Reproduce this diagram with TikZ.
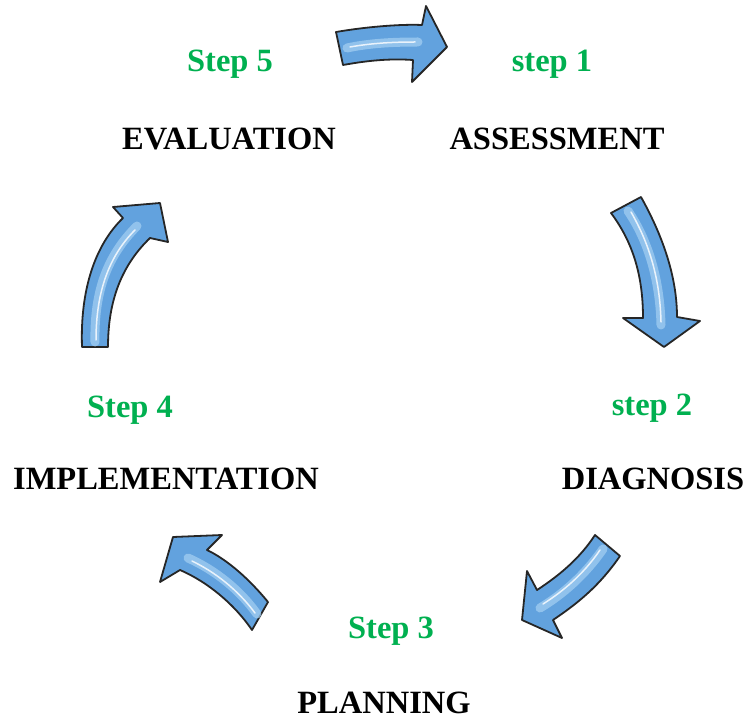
\documentclass[tikz,border=0pt]{standalone}
\usepackage{fontspec}
\setmainfont{Liberation Serif}
\definecolor{stepgreen}{RGB}{0,176,80}
\definecolor{arrowblue}{RGB}{98,162,222}
\definecolor{arrowlight}{RGB}{165,208,242}
\tikzset{
  bigarrow/.style={fill=arrowblue, draw=black!85, line width=1.8pt, line join=round},
  glow/.style={draw=arrowlight, line width=9pt, line cap=round, opacity=0.7},
  shine/.style={draw=white, line width=1.5pt, line cap=round, opacity=0.8},
  steplabel/.style={anchor=base, text=stepgreen, font=\fontsize{32.5}{38}\selectfont\bfseries, inner sep=0pt},
  phaselabel/.style={anchor=base, text=black, font=\fontsize{32.5}{38}\selectfont\bfseries, inner sep=0pt}
}
\begin{document}
\begin{tikzpicture}[x=1pt,y=-1pt]
\useasboundingbox (0,0) rectangle (744,719);
% labels
\node[steplabel] (s5) at (230,72) {Step 5};
\node[steplabel] (s1) at (552,72) {step 1};
\node[steplabel] (s2) at (652,415) {step 2};
\node[steplabel] (s3) at (391,638) {Step 3};
\node[steplabel] (s4) at (130,417) {Step 4};
\node[phaselabel] (ev) at (229,150) {EVALUATION};
\node[phaselabel] (as) at (557,150) {ASSESSMENT};
\node[phaselabel] (di) at (653,489) {DIAGNOSIS};
\node[phaselabel] (pl) at (384,713) {PLANNING};
\node[phaselabel] (im) at (166,489) {IMPLEMENTATION};
% arrow 1 (top)
\draw[bigarrow] (336,32) .. controls (365,27) and (400,24) .. (422,25)
  -- (426,6) -- (447,47) -- (412,82) -- (413,60)
  .. controls (385,58) and (360,62) .. (343,65) -- cycle;
\draw[glow] (347,48) .. controls (370,43) and (395,42) .. (418,42);
\draw[shine] (350,47) .. controls (372,43) and (395,42) .. (415,42);
% arrow 2 (right)
\draw[bigarrow] (611,213) -- (641,197)
  .. controls (665,240) and (677,280) .. (677,317)
  -- (700,321) -- (664,347) -- (623,318) -- (643,318)
  .. controls (643,280) and (635,245) .. cycle;
\draw[glow] (628,211) .. controls (648,240) and (660,280) .. (661,325);
\draw[shine] (631,212) .. controls (650,245) and (660,280) .. (661,322);
% arrow 3 (bottom right)
\draw[bigarrow] (595,535) -- (620,556)
  .. controls (598,588) and (575,605) .. (553,620)
  -- (562,638) -- (522,620) -- (527,571) -- (537,590)
  .. controls (560,575) and (580,558) .. cycle;
\draw[glow] (603,549) .. controls (585,575) and (562,595) .. (540,608);
\draw[shine] (600,550) .. controls (583,575) and (562,592) .. (543,604);
% arrow 4 (bottom left)
\draw[bigarrow] (252,630) -- (268,602)
  .. controls (250,580) and (228,560) .. (207,550)
  -- (222,535) -- (173,537) -- (160,582) -- (180,570)
  .. controls (208,582) and (235,605) .. cycle;
\draw[glow] (257,614) .. controls (240,590) and (215,570) .. (188,558);
\draw[shine] (255,613) .. controls (238,590) and (215,572) .. (192,561);
% arrow 5 (left)
\draw[bigarrow] (82,347) .. controls (80,290) and (95,245) .. (123,218)
  -- (113,207) -- (160,203) -- (168,242) -- (150,238)
  .. controls (122,265) and (108,300) .. (108,347) -- cycle;
\draw[glow] (95,342) .. controls (94,290) and (108,255) .. (137,226);
\draw[shine] (96,340) .. controls (96,290) and (110,255) .. (135,230);
\end{tikzpicture}
\end{document}
